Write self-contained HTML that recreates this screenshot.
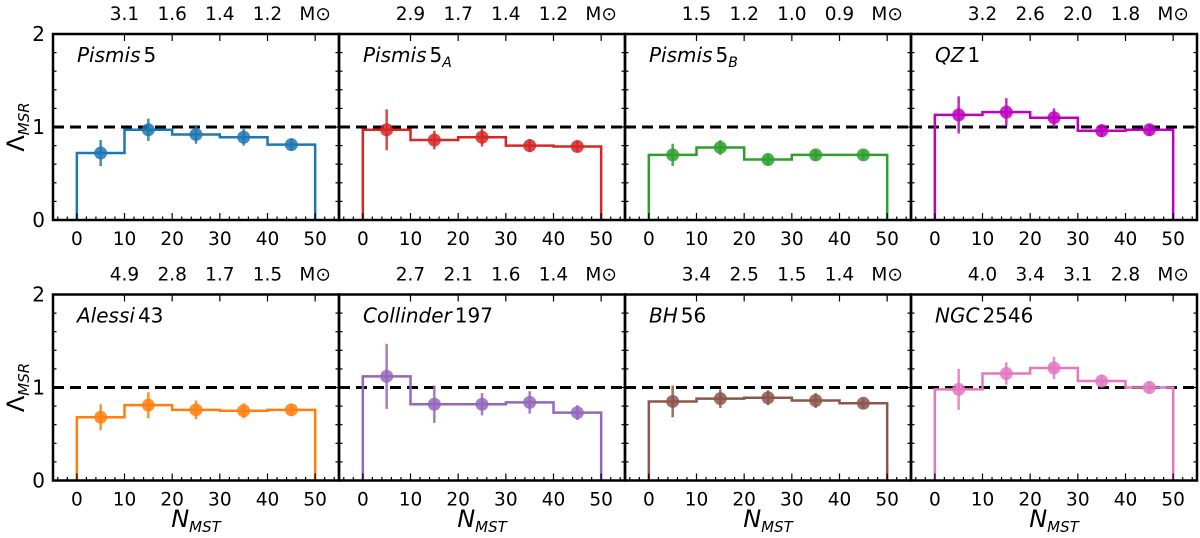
<!DOCTYPE html>
<html><head><meta charset="utf-8"><style>
html,body{margin:0;padding:0;background:#fff;}
svg{display:block;font-family:"DejaVu Sans","Liberation Sans",sans-serif;}
</style></head><body>
<svg id="chart" width="1200" height="538" viewBox="0 0 1200 538"></svg>
<script>
const panelNames = ["Pismis","Pismis","Pismis","QZ","Alessi","Collinder","BH","NGC"];
const panelNums = ["5","5","5","1","43","197","56","2546"];
const panelSubs = ["","A","B","","","","",""];
const colors = ["#1f77b4","#d62728","#2ca02c","#c000c0","#ff7f0e","#9467bd","#8c564b","#e377c2"];
const binCenters = [5,15,25,35,45];
const values = [
 [0.72,0.97,0.92,0.89,0.81],
 [0.97,0.86,0.89,0.80,0.79],
 [0.70,0.78,0.65,0.70,0.70],
 [1.13,1.16,1.10,0.96,0.97],
 [0.68,0.81,0.76,0.75,0.76],
 [1.12,0.82,0.82,0.84,0.73],
 [0.85,0.88,0.89,0.86,0.83],
 [0.98,1.15,1.21,1.07,1.00]
];
const errors = [
 [0.14,0.12,0.10,0.09,0.06],
 [0.22,0.10,0.10,0.07,0.06],
 [0.12,0.08,0.06,0.06,0.05],
 [0.20,0.15,0.10,0.07,0.06],
 [0.14,0.14,0.10,0.08,0.06],
 [0.35,0.20,0.12,0.12,0.08],
 [0.17,0.10,0.08,0.08,0.05],
 [0.22,0.12,0.12,0.07,0.07]
];
const massLabels = [
 ["3.1","1.6","1.4","1.2"],["2.9","1.7","1.4","1.2"],["1.5","1.2","1.0","0.9"],["3.2","2.6","2.0","1.8"],
 ["4.9","2.8","1.7","1.5"],["2.7","2.1","1.6","1.4"],["3.4","2.5","1.5","1.4"],["4.0","3.4","3.1","2.8"]
];
const xTicks = [0,10,20,30,40,50];
const yTicks = [0,1,2];

const svg = document.getElementById('chart');
const NS = "http://www.w3.org/2000/svg";
function mk(tag, attrs, parent){const e=document.createElementNS(NS,tag);for(const k in attrs)e.setAttribute(k,attrs[k]);(parent||svg).appendChild(e);return e;}

const PW=286, lefts=[53,339,625,911], tops=[34,294.5], PH=186;
for(let p=0;p<8;p++){
  const col=p%4,row=Math.floor(p/4);
  const L=lefts[col],T=tops[row],B=T+PH,R=L+PW;
  const sx=v=>L+(v+5)/60*PW;
  const sy=v=>B-v/2*PH;
  const g=mk('g',{});
  
  
  const d=mk('line',{x1:L,x2:R,y1:sy(1),y2:sy(1),stroke:'#000','stroke-width':3,'stroke-dasharray':'11,6'},g);
  
  
  const v=values[p];
  let pts=[[sx(0),sy(0)]];
  v.forEach((y,i)=>{pts.push([sx(binCenters[i]-5),sy(y)]);pts.push([sx(binCenters[i]+5),sy(y)]);});
  pts.push([sx(50),sy(0)]);
  const st=mk('polyline',{points:pts.map(a=>a.join(',')).join(' '),fill:'none',stroke:colors[p],'stroke-width':2.5},g);
  
  
  v.forEach((y,i)=>{
    const eb=mk('line',{x1:sx(binCenters[i]),x2:sx(binCenters[i]),y1:sy(y-errors[p][i]),y2:sy(y+errors[p][i]),stroke:colors[p],'stroke-width':2.5,opacity:0.85},g);
    
    
    const c=mk('circle',{cx:sx(binCenters[i]),cy:sy(y),r:6.5,fill:colors[p],opacity:0.85},g);
    
    
  });
  for(let x=-4;x<=54;x+=2){const maj=x%10===0&&x>=0&&x<=50;const len=maj?7:3.5;
    mk('line',{x1:sx(x),x2:sx(x),y1:B,y2:B-len,stroke:'#000','stroke-width':1.2},g);
    mk('line',{x1:sx(x),x2:sx(x),y1:T,y2:T+(x>=10&&x%10===0&&x<=50?7:0),stroke:'#000','stroke-width':1.2},g);}
  for(let y=0.2;y<2;y+=0.2){const maj=Math.abs(y-1)<0.01;const len=maj?7:3.5;
    mk('line',{x1:L,x2:L+len,y1:sy(y),y2:sy(y),stroke:'#000','stroke-width':1.2},g);
    mk('line',{x1:R,x2:R-len,y1:sy(y),y2:sy(y),stroke:'#000','stroke-width':1.2},g);}
  xTicks.forEach(x=>{const t=mk('text',{x:sx(x),y:B+25,'text-anchor':'middle','font-size':18.5},g);t.textContent=x;
    });
  massLabels[p].forEach((m,i)=>{const t=mk('text',{x:sx(10+i*10),y:T-14,'text-anchor':'middle','font-size':18.5},g);t.textContent=m;
    });
  const ms=mk('text',{x:sx(50),y:T-14,'text-anchor':'middle','font-size':18.5},g);ms.textContent='M\u2299';
  
  if(col===0){yTicks.forEach(y=>{const t=mk('text',{x:L-8,y:sy(y)+7,'text-anchor':'end','font-size':20},g);t.textContent=y;
    });
    const yl=mk('text',{transform:`translate(24,${sy(1)}) rotate(-90)`,'text-anchor':'middle','font-size':24},g);
    yl.innerHTML='Λ<tspan font-size="15" font-style="italic" dy="5">MSR</tspan>';
    }
  if(row===1){const xl=mk('text',{x:(L+R)/2,y:527,'text-anchor':'middle','font-size':24,'font-style':'italic'},g);
    xl.innerHTML='N<tspan font-size="15" dy="5">MST</tspan>';
    }
  const tl=mk('text',{x:L+24,y:T+28,'font-size':20},g);
  tl.innerHTML='<tspan font-style="italic">'+panelNames[p]+'</tspan><tspan dx="3">'+panelNums[p]+'</tspan>'+(panelSubs[p]?'<tspan font-style="italic" font-size="14" dy="5">'+panelSubs[p]+'</tspan>':'');
  
  const fr=mk('rect',{x:L,y:T,width:PW,height:PH,fill:'none',stroke:'#000','stroke-width':2.5},g);
  
}
</script>
</body></html>
